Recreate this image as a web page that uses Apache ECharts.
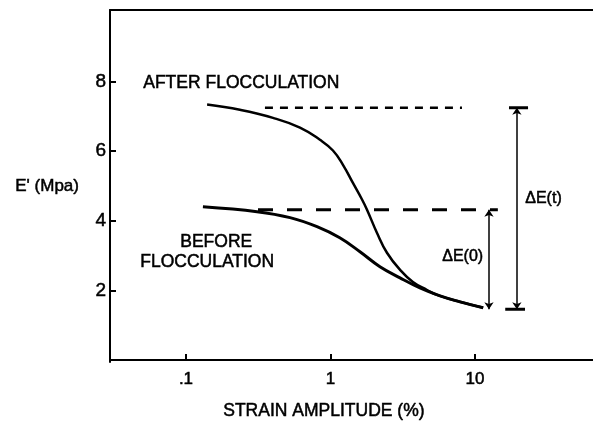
<!DOCTYPE html>
<html><head><meta charset="utf-8">
<script src="https://cdn.jsdelivr.net/npm/echarts@6/dist/echarts.min.js"></script>
<style>html,body{margin:0;padding:0;background:#fff}#c{width:593px;height:428px}</style>
</head><body><div id="c"></div>
<script>
const afterX = [0.140,0.236,0.400,0.615,0.845,1.04,1.22,1.43,1.65,1.79,2.10,2.46,3.03,3.72,4.66,5.46,7.87,11.4];
const afterY = [7.34,7.19,6.96,6.68,6.33,6.02,5.61,5.09,4.62,4.32,3.65,3.08,2.59,2.24,2.01,1.87,1.67,1.50];
const beforeX = [0.131,0.310,0.525,0.807,1.16,1.60,2.20,3.03,4.16,5.73,7.87,11.4];
const beforeY = [4.40,4.26,4.09,3.83,3.51,3.11,2.68,2.36,2.07,1.84,1.67,1.50];
const upperDashX = [0.352, 8.13];
const upperDashY = 7.25;
const lowerDashX = [0.315, 14.4];
const lowerDashY = 4.32;
const dE0X = 12.5;
const dEtX = 19.5;
const bottomY = 1.46;
const capTopX = [17.2, 23.3];
const capBotX = [16.2, 22.2];
const xTicks = [0.1, 1, 10];
const xTickLabels = ['.1', '1', '10'];
const yTicks = [2, 4, 6, 8];

const FONT = 'Liberation Sans, Arial, sans-serif';
const chart = echarts.init(document.getElementById('c'));
const zip = (xs, ys) => xs.map((x, i) => [x, ys[i]]);
const blk = '#000';
const txt = (left, top, text, size) => ({type: 'text', left, top,
  style: {text, font: size + 'px ' + FONT, fill: blk, stroke: blk, lineWidth: 0.5}});
chart.setOption({
  animation: false,
  grid: {left: 110, right: 0, top: 10, bottom: 66},
  xAxis: [{
    type: 'log', logBase: 10, min: 0.0298, max: 65.6,
    axisLine: {show: true, lineStyle: {color: blk, width: 2}},
    axisTick: {show: true, inside: true, length: 6, customValues: xTicks, lineStyle: {color: blk, width: 2}},
    axisLabel: {show: true, customValues: xTicks, margin: 9, color: blk, fontSize: 17, fontFamily: FONT,
      textBorderColor: blk, textBorderWidth: 0.5,
      formatter: v => { for (let i = 0; i < xTicks.length; i++) if (Math.abs(v - xTicks[i]) < 1e-6 * xTicks[i]) return xTickLabels[i]; return ''; }},
    splitLine: {show: false}, minorTick: {show: false}
  }, {
    type: 'value', position: 'top', min: 0, max: 1,
    axisLine: {show: true, lineStyle: {color: blk, width: 2}},
    axisTick: {show: false}, axisLabel: {show: false}, splitLine: {show: false}
  }],
  yAxis: {
    type: 'value', min: -0.06, max: 10.06,
    axisLine: {show: true, lineStyle: {color: blk, width: 2}},
    axisTick: {show: true, inside: true, length: 6, customValues: yTicks, lineStyle: {color: blk, width: 2}},
    axisLabel: {show: true, customValues: yTicks, margin: 4, color: blk, fontSize: 19, fontFamily: FONT,
      textBorderColor: blk, textBorderWidth: 0.5},
    splitLine: {show: false}
  },
  series: [
    {type: 'line', data: zip(afterX, afterY), smooth: 0.45, symbol: 'none',
      lineStyle: {color: blk, width: 2.5}},
    {type: 'line', data: zip(beforeX, beforeY), smooth: 0.4, symbol: 'none',
      lineStyle: {color: blk, width: 3}},
    {type: 'line', data: upperDashX.map(x => [x, upperDashY]), symbol: 'none',
      lineStyle: {color: blk, width: 2.5, type: [8, 7]}},
    {type: 'line', data: lowerDashX.map(x => [x, lowerDashY]), symbol: 'none',
      lineStyle: {color: blk, width: 3, type: [15, 14]}},
    {type: 'line', data: capTopX.map(x => [x, upperDashY]), symbol: 'none',
      lineStyle: {color: blk, width: 3}},
    {type: 'line', data: capBotX.map(x => [x, bottomY]), symbol: 'none',
      lineStyle: {color: blk, width: 3},
      markLine: {silent: true, symbol: ['arrow', 'arrow'], symbolSize: 7, label: {show: false},
        lineStyle: {color: blk, width: 1.5, type: 'solid'},
        data: [
          [{coord: [dE0X, lowerDashY]}, {coord: [dE0X, bottomY]}],
          [{coord: [dEtX, upperDashY]}, {coord: [dEtX, bottomY]}]
        ]}}
  ],
  graphic: [
    txt(143, 74, 'AFTER FLOCCULATION', 17.5),
    txt(180, 233, 'BEFORE', 17.5),
    txt(140, 253, 'FLOCCULATION', 17.5),
    txt(15, 178, "E' (Mpa)", 17),
    txt(223, 402, 'STRAIN AMPLITUDE (%)', 17.5),
    txt(525, 190, 'ΔE(t)', 16),
    txt(442, 248, 'ΔE(0)', 16)
  ]
});
</script></body></html>
